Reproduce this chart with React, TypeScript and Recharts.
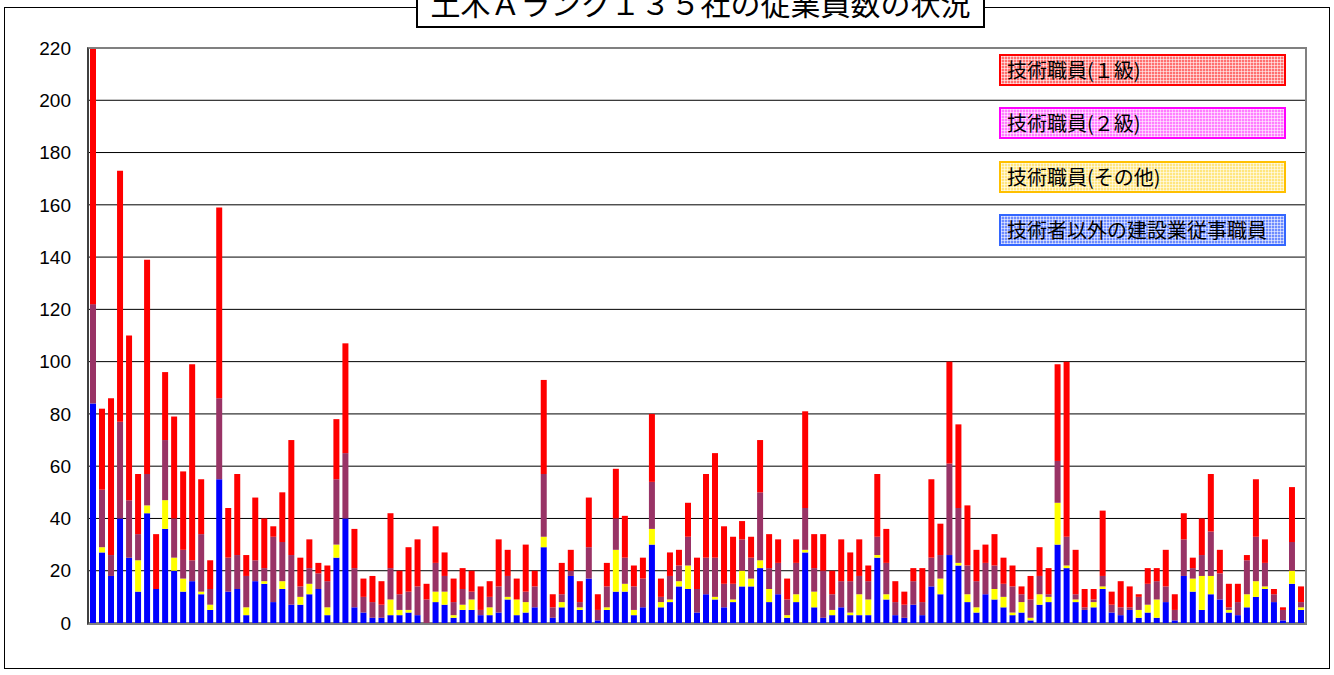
import { BarChart, Bar, XAxis, YAxis, CartesianGrid, Legend } from "recharts";

// staff counts per company (135 companies)
const blue = [
  84, 27, 18, 40, 25, 12, 42, 13, 36, 20,
  12, 16, 11, 5, 55, 12, 13, 3, 16, 15,
  8, 13, 7, 7, 11, 13, 3, 25, 40, 6,
  4, 2, 2, 3, 3, 4, 3, 0, 8, 7,
  2, 5, 5, 3, 3, 4, 9, 3, 4, 6,
  29, 2, 6, 18, 5, 17, 1, 5, 12, 12,
  3, 6, 30, 6, 8, 14, 13, 4, 11, 9,
  6, 8, 14, 14, 21, 8, 11, 2, 8, 27,
  6, 2, 3, 6, 3, 3, 3, 25, 9, 3,
  2, 7, 3, 14, 11, 26, 22, 8, 4, 11,
  9, 6, 3, 4, 1, 7, 8, 30, 21, 8,
  5, 6, 13, 4, 3, 5, 2, 4, 2, 8,
  1, 18, 12, 5, 11, 9, 4, 3, 6, 10,
  13, 8, 1, 15, 5,
];

const yellow = [
  0, 2, 0, 0, 0, 12, 3, 0, 11, 5,
  5, 0, 1, 2, 0, 0, 0, 3, 0, 1,
  0, 3, 0, 3, 4, 0, 3, 5, 0, 0,
  0, 0, 0, 6, 2, 1, 0, 0, 4, 5,
  1, 2, 4, 0, 3, 0, 1, 6, 4, 0,
  4, 0, 2, 0, 1, 0, 0, 1, 16, 3,
  2, 0, 6, 2, 1, 2, 9, 0, 0, 1,
  0, 1, 6, 3, 3, 5, 0, 1, 3, 1,
  6, 0, 2, 0, 1, 8, 6, 1, 2, 0,
  0, 0, 0, 0, 6, 0, 1, 3, 2, 0,
  4, 4, 1, 4, 1, 4, 2, 16, 1, 1,
  0, 2, 1, 0, 0, 0, 3, 3, 7, 0,
  0, 0, 5, 13, 7, 0, 1, 0, 5, 6,
  1, 0, 0, 5, 1,
];

const purple = [
  38, 22, 8, 37, 22, 10, 12, 0, 23, 15,
  11, 8, 22, 6, 31, 13, 13, 12, 8, 5,
  25, 15, 19, 4, 6, 6, 10, 25, 25, 15,
  6, 6, 5, 12, 6, 7, 11, 9, 11, 6,
  5, 6, 3, 2, 4, 10, 8, 0, 4, 8,
  24, 4, 3, 2, 2, 12, 4, 8, 12, 10,
  9, 11, 18, 2, 9, 6, 11, 9, 14, 15,
  9, 6, 12, 8, 26, 8, 12, 6, 12, 16,
  9, 18, 6, 10, 12, 7, 7, 7, 12, 5,
  5, 9, 5, 11, 9, 35, 21, 11, 10, 12,
  9, 5, 10, 3, 7, 7, 1, 16, 11, 2,
  1, 1, 4, 3, 3, 1, 5, 8, 7, 6,
  4, 14, 4, 8, 17, 10, 1, 5, 13, 17,
  9, 3, 4, 11, 2,
];

const red = [
  98, 31, 60, 96, 63, 23, 82, 21, 26, 39,
  30, 75, 21, 11, 73, 19, 31, 8, 24, 19,
  4, 19, 44, 11, 11, 4, 6, 23, 42, 15,
  7, 10, 9, 21, 9, 17, 18, 6, 14, 9,
  9, 8, 8, 9, 6, 18, 10, 8, 18, 6,
  36, 5, 12, 8, 8, 19, 6, 9, 19, 16,
  8, 8, 26, 7, 9, 6, 13, 12, 32, 40,
  22, 18, 7, 8, 20, 13, 9, 8, 9, 37,
  13, 14, 9, 16, 11, 14, 6, 24, 13, 8,
  5, 5, 13, 30, 12, 39, 32, 23, 12, 7,
  12, 10, 8, 3, 9, 11, 10, 37, 67, 17,
  7, 4, 25, 5, 10, 8, 1, 6, 5, 14,
  6, 10, 4, 14, 22, 9, 9, 7, 2, 22,
  9, 2, 1, 21, 6,
];

const companies = blue.map((_, i) => `${i + 1}`);
const yTicks = [0, 20, 40, 60, 80, 100, 120, 140, 160, 180, 200, 220];

const data = companies.map((c, i) => ({
  name: c,
  other: blue[i],
  misc: yellow[i],
  grade2: purple[i],
  grade1: red[i],
}));

// stack order bottom -> top
const SERIES = [
  { key: "other", name: "技術者以外の建設業従事職員", fill: "#0000FF", border: "#3366FF", tint: "#6f8cff" },
  { key: "misc", name: "技術職員(その他)", fill: "#FFFF00", border: "#FFC000", tint: "#ffe680" },
  { key: "grade2", name: "技術職員(２級)", fill: "#993366", border: "#FF00FF", tint: "#ff7dff" },
  { key: "grade1", name: "技術職員(１級)", fill: "#FF0000", border: "#FF0000", tint: "#ff7070" },
];

const JP = '"Noto Sans CJK JP", "Noto Sans", sans-serif';

function LegendBoxes() {
  const items = [...SERIES].reverse();
  return (
    <div style={{ position: "relative", width: 288, height: 192 }}>
      {items.map((s, i) => (
        <div
          key={s.key}
          style={{
            position: "absolute",
            left: 0,
            top: i * 53.4,
            width: 287,
            height: 32,
            boxSizing: "border-box",
            border: `2px solid ${s.border}`,
            backgroundColor: s.tint,
            backgroundImage:
              "repeating-linear-gradient(0deg, rgba(255,255,255,0.55) 0 1px, transparent 1px 3px), repeating-linear-gradient(90deg, rgba(255,255,255,0.55) 0 1px, transparent 1px 3px)",
            fontFamily: JP,
            fontSize: 20,
            lineHeight: "28px",
            paddingLeft: 6,
            color: "#000",
            whiteSpace: "nowrap",
            textAlign: "left",
          }}
        >
          {s.name}
        </div>
      ))}
    </div>
  );
}

export default function App() {
  return (
    <div
      style={{
        position: "absolute",
        left: 0,
        top: 0,
        width: 1334,
        height: 675,
        background: "#fff",
        overflow: "hidden",
      }}
    >
      <BarChart
        width={1334}
        height={675}
        data={data}
        margin={{ top: 48, right: 29, bottom: 52, left: 0 }}
        barSize={6}
      >
        <CartesianGrid vertical={false} stroke="#000" strokeWidth={1} />
        <XAxis dataKey="name" hide />
        <YAxis
          width={88}
          domain={[0, 220]}
          ticks={yTicks}
          interval={0}
          axisLine={{ stroke: "#404040", strokeWidth: 2 }}
          tickLine={false}
          tickMargin={11}
          tick={{ fill: "#000", fontSize: 19, fontFamily: '"Liberation Sans", Arial, sans-serif' }}
        />
        {SERIES.map((s) => (
          <Bar
            key={s.key}
            dataKey={s.key}
            name={s.name}
            stackId="a"
            fill={s.fill}
            isAnimationActive={false}
          />
        ))}
        <Legend
          layout="vertical"
          align="center"
          verticalAlign="middle"
          content={() => <LegendBoxes />}
          wrapperStyle={{ position: "absolute", left: 999, top: 54, width: 288, height: 192 }}
        />
      </BarChart>

      {/* plot area frame */}
      <div
        style={{
          position: "absolute",
          left: 87,
          top: 47,
          width: 1220,
          height: 578,
          boxSizing: "border-box",
          border: "2px solid #808080",
          borderLeftColor: "#404040",
          pointerEvents: "none",
        }}
      />

      {/* outer chart frame */}
      <div
        style={{
          position: "absolute",
          left: 4,
          top: 7,
          width: 1326,
          height: 662,
          boxSizing: "border-box",
          border: "1px solid #000",
          pointerEvents: "none",
        }}
      />

      {/* title box, clipped at the top edge */}
      <div
        style={{
          position: "absolute",
          left: 416,
          top: -15,
          width: 569,
          height: 43,
          boxSizing: "border-box",
          border: "2px solid #000",
          background: "#fff",
          fontFamily: JP,
          fontSize: 30,
          lineHeight: "30px",
          textAlign: "center",
          color: "#000",
          whiteSpace: "nowrap",
        }}
      >
        土木Ａランク１３５社の従業員数の状況
      </div>
    </div>
  );
}
